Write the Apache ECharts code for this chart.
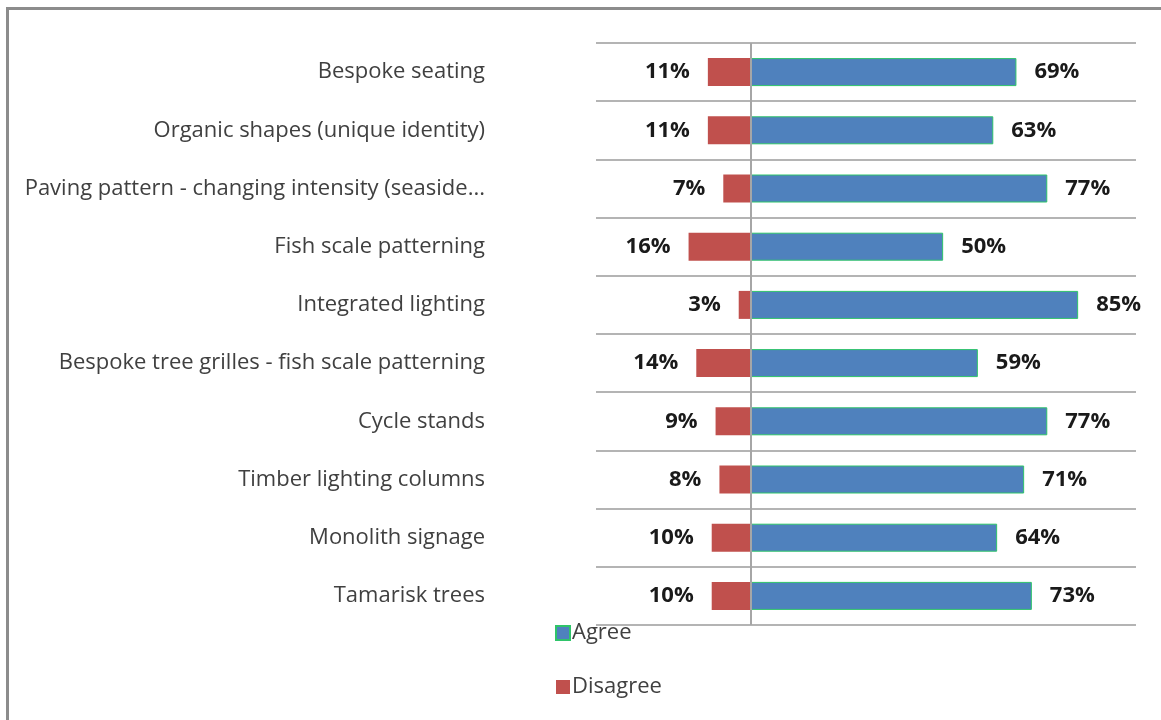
<!DOCTYPE html>
<html>
<head>
<meta charset="utf-8">
<script src="https://cdn.jsdelivr.net/npm/echarts@6/dist/echarts.min.js"></script>
<style>
  html, body { margin: 0; padding: 0; background: #fff; }
  #frame {
    position: absolute; left: 6px; top: 7px; width: 1200px; height: 760px;
    border-left: 3px solid #8c8c8c; border-top: 3px solid #8c8c8c;
  }
  #chart { position: absolute; left: 0; top: 0; width: 1161px; height: 720px; }
</style>
</head>
<body>
<div id="frame"></div>
<div id="chart"></div>
<script>
// Survey items, listed top to bottom
const categories = [
  'Bespoke seating',
  'Organic shapes (unique identity)',
  'Paving pattern - changing intensity (seaside...',
  'Fish scale patterning',
  'Integrated lighting',
  'Bespoke tree grilles - fish scale patterning',
  'Cycle stands',
  'Timber lighting columns',
  'Monolith signage',
  'Tamarisk trees'
];
// Share of respondents (%)
const agree    = [69, 63, 77, 50, 85, 59, 77, 71, 64, 73];
const disagree = [11, 11, 7, 16, 3, 14, 9, 8, 10, 10];

const FONT = '"Open Sans", Lato, sans-serif';

const chart = echarts.init(document.getElementById('chart'), null, { renderer: 'canvas' });

chart.setOption({
  animation: false,
  textStyle: { fontFamily: FONT },
  grid: { left: 596, right: 25, top: 43, bottom: 95, containLabel: false },
  xAxis: {
    type: 'value', min: -40, max: 100,
    show: false,
    splitLine: { show: false }
  },
  yAxis: {
    type: 'category',
    data: categories,
    inverse: true,
    axisLine: { show: false },
    axisTick: { show: false },
    splitLine: { show: true, lineStyle: { color: '#b4b4b4', width: 2 } },
    axisLabel: {
      margin: 111, color: '#404040', fontSize: 22, fontFamily: FONT,
      padding: [4, 0, 0, 0]
    }
  },
  legend: {
    orient: 'vertical',
    left: 550, top: 617,
    itemGap: 32,
    itemWidth: 14, itemHeight: 14,
    icon: 'rect',
    textStyle: { fontSize: 22, color: '#404040', fontFamily: FONT, padding: [0, 0, 0, -3] },
    data: ['Agree', 'Disagree']
  },
  series: [
    {
      name: 'Agree', type: 'bar', stack: 'total', barWidth: 28,
      data: agree,
      itemStyle: { color: '#4f81bd', borderColor: '#2fc46a', borderWidth: 1 },
      label: {
        show: true, position: 'right', distance: 18,
        formatter: p => p.value + '%',
        fontSize: 22, fontWeight: 'bold', color: '#1a1a1a', fontFamily: FONT
      },
      markLine: {
        silent: true, symbol: 'none', label: { show: false },
        lineStyle: { color: '#a6a6a6', width: 2, type: 'solid' },
        data: [{ xAxis: 0 }]
      }
    },
    {
      name: 'Disagree', type: 'bar', stack: 'total', barWidth: 28,
      data: disagree.map(v => -v),
      itemStyle: { color: '#c0504d' },
      label: {
        show: true, position: 'left', distance: 18,
        formatter: p => Math.abs(p.value) + '%',
        fontSize: 22, fontWeight: 'bold', color: '#1a1a1a', fontFamily: FONT
      }
    }
  ]
});
</script>
</body>
</html>
